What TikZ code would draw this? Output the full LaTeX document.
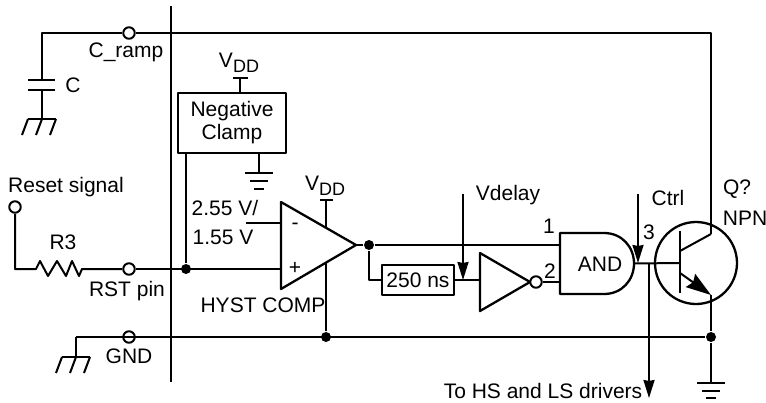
\documentclass[tikz,border=0pt]{standalone}
\usepackage{fontspec}
\setmainfont{Liberation Sans}
\usetikzlibrary{arrows.meta}
\newcommand{\vdd}{V\raisebox{-5pt}{\fontsize{18}{18}\selectfont DD}}
\tikzset{
	wire/.style={line width=2pt},
	bold/.style={line width=2.3pt},
	label/.style={inner sep=0pt,anchor=center},
	pin/.style={circle,draw,fill=white,line width=2pt,minimum size=11.5pt,inner sep=0pt},
	dot/.style={circle,fill=black,minimum size=10pt,inner sep=0pt},
	tip/.style={-{Stealth[length=18pt,width=11pt,inset=1pt]}},
	blockbox/.style={draw,bold,inner sep=0pt,anchor=center}
}
\begin{document}
\begin{tikzpicture}[x=1pt,y=-1pt,font=\fontsize{21}{24}\selectfont,line join=round,wire]
	\useasboundingbox (0,0) rectangle (766,402);
	% pins and junctions
	\node[pin] (pinramp) at (129,33) {};
	\node[pin] (pinrst) at (129,269) {};
	\node[pin] (pingnd) at (129,337) {};
	\node[pin] (pinreset) at (15,207) {};
	\node[dot] (jrst) at (186,269) {};
	\node[dot] (jout) at (369,245) {};
	\node[dot] (jcomp) at (326,337) {};
	\node[dot] (jemit) at (711,337) {};
	\coordinate (capt) at (42,33);
	\coordinate (gndl) at (76,337);
	\coordinate (coll) at (711,33);
	\coordinate (collb) at (711,234);
	\coordinate (emit) at (711,295);
	\coordinate (base) at (680,263);
	% boundary of the chip
	\coordinate (chipt) at (170.5,6);
	\coordinate (chipb) at (170.5,382);
	\draw (chipt)--(chipb);
	% capacitor
	\coordinate (capa) at (42,80);
	\coordinate (capb) at (42,90);
	\coordinate (capg) at (42,119);
	\draw (pinramp)--(capt)--(capa);
	\draw (pinramp)--(coll)--(collb);
	\draw[bold] (28,80)--(55,80) (28,90)--(55,90);
	\draw (capb)--(capg);
	\draw (28,119)--(56,119);
	\foreach \x in {28,42,56} \draw (\x,119)--(\x-6,135);
	\node[label] (cname) at (73,85) {C};
	\node[label] (rampname) at (126,52) {C\_ramp};
	% negative clamp
	\node[blockbox,minimum width=108pt,minimum height=60pt,align=center] (clamp) at (232,123) {Negative\\[-1pt]Clamp};
	\coordinate (clampv) at (240,78);
	\coordinate (clampg) at (259,173);
	\draw (clamp.north -| clampv)--(clampv);
	\draw[bold] (233,78)--(248,78);
	\node[label] (clampvdd) at (239,63) {\vdd};
	\draw (clamp.south -| clampg)--(clampg);
	\draw (245,173)--(273,173);
	\draw[bold] (250,181)--(268,181) (254,189)--(264,189);
	\draw (clamp.south -| jrst)--(jrst);
	% reset input
	\coordinate (resl) at (15,269);
	\draw (pinreset)--(resl)--(36,269)--(40,261)--(48,276)--(57,261)--(66,276)--(72,261)--(79,276)--(82,269)--(pinrst);
	\node[label] (resetname) at (66,187) {Reset signal};
	\node[label] (rname) at (63,242) {R3};
	\node[label] (rstname) at (127,291) {RST pin};
	% comparator
	\coordinate (cmpa) at (281,202);
	\coordinate (cmpb) at (281,289);
	\coordinate (cmpc) at (356,245);
	\coordinate (cmpm) at (246,223);
	\coordinate (cmpv) at (326,200);
	\draw (pinrst)--(cmpb |- pinrst);
	\draw (cmpm)--(cmpa |- cmpm);
	\draw (cmpv)--(326,228);
	\draw (326,262)--(jcomp);
	\draw[bold] (320,200)--(333,200);
	\draw[bold] (cmpa)--(cmpb)--(cmpc)--cycle;
	\node[label] (cmpvdd) at (325,186) {\vdd};
	\node[label] (minus) at (295,226) {-};
	\node[label] (plus) at (295,268) {+};
	\node[label] (refhi) at (225,208) {2.55 V/};
	\node[label] (reflo) at (223,237) {1.55 V};
	\node[label] (cmpname) at (263,305) {HYST COMP};
	% ground rail
	\draw (gndl)--(jemit);
	\draw (gndl)--(76,357);
	\draw (62,357)--(90,357);
	\foreach \x in {62,76,90} \draw (\x,357)--(\x-6,373);
	\node[label] (gndname) at (129,356) {GND};
	% delay and inverter
	\node[blockbox,minimum width=72pt,minimum height=30pt] (delay) at (418,280) {250 ns};
	\coordinate (inva) at (480,253);
	\coordinate (invb) at (480,311);
	\coordinate (invc) at (530,282);
	\node[pin] (bubble) at (536,282) {};
	\draw (cmpc)--(jout);
	\draw (jout)--(jout |- delay)--(delay);
	\draw (delay)--(inva |- delay);
	\draw[bold] (inva)--(invb)--(invc)--cycle;
	\coordinate (vdelt) at (463,194);
	\draw[tip] (vdelt)--(463,280);
	\node[label] (vdelname) at (508,195) {Vdelay};
	% and gate
	\coordinate (anda) at (560,233);
	\coordinate (andb) at (560,294);
	\coordinate (andc) at (634,263.5);
	\draw[bold] (anda)--(604,233) .. controls (622,233) and (634,247) .. (andc) .. controls (634,280) and (622,294) .. (604,294)--(andb)--cycle;
	\node[label] (andname) at (600,264) {AND};
	\draw (jout)--(jout -| anda);
	\draw (bubble)--(bubble -| anda);
	\node[label] (one) at (549,226) {1};
	\node[label] (two) at (550,271) {2};
	\node[label] (three) at (649,232) {3};
	% output and transistor
	\coordinate (ctrlt) at (638,194);
	\coordinate (hsb) at (649,398);
	\draw (andc)--(base);
	\draw[tip] (ctrlt)--(638,263);
	\draw[tip] (649,263)--(hsb);
	\node[label] (ctrlname) at (668,198) {Ctrl};
	\node[label] (hsname) at (543,391) {To HS and LS drivers};
	\node[label] (qname) at (737,189) {Q?};
	\node[label] (npnname) at (745,218) {NPN};
	\draw[bold] (696,263) circle (41);
	\draw[bold] (680,231)--(680,293);
	\draw (680,251)--(collb);
	\draw[-{Stealth[length=25pt,width=16pt,inset=3pt]}] (680,273)--(emit);
	\draw (emit)--(jemit)--(711,383);
	\draw (697,383)--(725,383);
	\draw[bold] (702,391)--(720,391) (706,398)--(716,398);
\end{tikzpicture}
\end{document}
